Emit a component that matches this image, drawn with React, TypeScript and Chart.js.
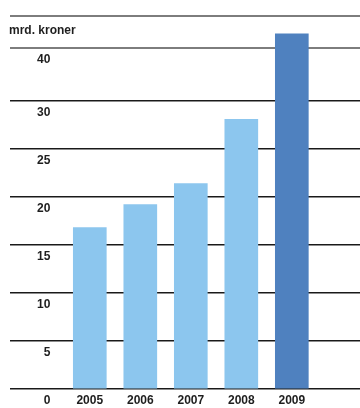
import React, { useEffect, useRef } from "react";
import { Chart, registerables } from "chart.js";

Chart.register(...registerables);

// ---- data ----
const years: number[] = [2005, 2006, 2007, 2008, 2009];
const values: number[] = [16.8, 19.2, 21.4, 28.1, 37.0];
const highlightYear = 2009;

// y gridline positions (values) and their printed labels (as in the source)
const yTickValues: number[] = [0, 5, 10, 15, 20, 25, 30, 35.5, 38.85];
const yTickLabels: string[] = ["0", "5", "10", "15", "20", "25", "30", "40", ""];
const yUnitLabel = "mrd. kroner";

// ---- styles ----
const LIGHT = "#8CC6EE";
const DARK = "#4F81BF";
const TEXT = "#1e1e1e";
const FONT_FAMILY = '"Liberation Sans", Arial, Helvetica, sans-serif';

export default function App() {
  const ref = useRef<HTMLCanvasElement | null>(null);

  useEffect(() => {
    document.body.style.margin = "0";
    const canvas = ref.current;
    if (!canvas) return;

    const unitLabelPlugin = {
      id: "unitLabel",
      afterDraw(chart: any) {
        const ctx = chart.ctx;
        ctx.save();
        ctx.font = `bold 12px ${FONT_FAMILY}`;
        ctx.fillStyle = TEXT;
        ctx.textAlign = "left";
        ctx.textBaseline = "middle";
        ctx.fillText(yUnitLabel, 9, 31);
        ctx.restore();
      },
    };

    const chart = new Chart(canvas, {
      type: "bar",
      data: {
        datasets: [
          {
            data: years.map((y, i) => ({ x: y, y: values[i] })),
            backgroundColor: years.map((y) => (y === highlightYear ? DARK : LIGHT)),
            borderWidth: 0,
            barThickness: 33,
          },
        ],
      },
      options: {
        responsive: false,
        animation: false,
        events: [],
        layout: { padding: { left: 10, right: 0, top: 16, bottom: 0 } },
        plugins: {
          legend: { display: false },
          tooltip: { enabled: false },
        },
        scales: {
          x: {
            type: "linear",
            offset: false,
            min: 2003.42,
            max: 2010.35,
            grid: { display: false, offset: false, drawTicks: false },
            border: { display: false },
            afterBuildTicks: (scale: any) => {
              scale.ticks = years.map((v) => ({ value: v }));
            },
            afterFit: (scale: any) => {
              scale.height = 19;
              scale.paddingLeft = 0;
              scale.paddingRight = 0;
            },
            ticks: {
              padding: 4,
              color: TEXT,
              font: { family: FONT_FAMILY, size: 12, weight: "bold" },
              callback: (v: any) => String(v),
              maxRotation: 0,
              autoSkip: false,
            },
          },
          y: {
            type: "linear",
            min: 0,
            max: 38.85,
            border: { display: false },
            afterBuildTicks: (scale: any) => {
              scale.ticks = yTickValues.map((v) => ({ value: v }));
            },
            afterFit: (scale: any) => {
              scale.width = 0;
              scale.paddingTop = 0;
              scale.paddingBottom = 0;
            },
            grid: {
              drawTicks: false,
              color: (ctx: any) => (ctx.tick && ctx.tick.value > 33 ? "#7d7d7d" : "#1a1a1a"),
              lineWidth: (ctx: any) => (ctx.tick && ctx.tick.value > 33 ? 2 : 1.5),
            },
            ticks: {
              mirror: true,
              crossAlign: "far",
              padding: 27,
              labelOffset: 12,
              color: TEXT,
              font: { family: FONT_FAMILY, size: 12, weight: "bold" },
              autoSkip: false,
              callback: (_v: any, i: number) => yTickLabels[i],
            },
          },
        },
      },
      plugins: [unitLabelPlugin],
    } as any);

    return () => chart.destroy();
  }, []);

  return (
    <div style={{ width: 360, height: 408 }}>
      <canvas ref={ref} width={360} height={408} style={{ display: "block" }} />
    </div>
  );
}
